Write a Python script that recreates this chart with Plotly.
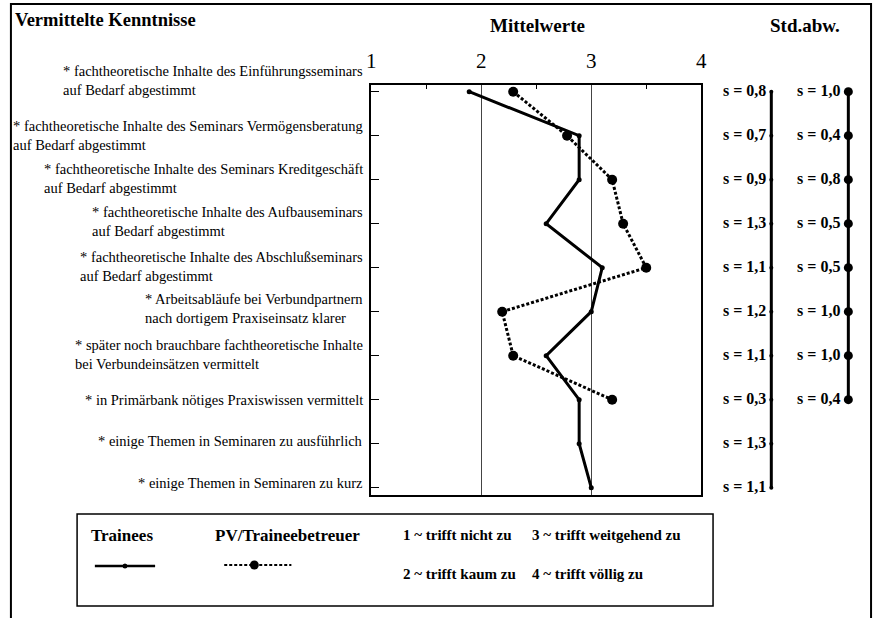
import plotly.graph_objects as go

W, H = 881, 618

# ---------------- data ----------------
categories = [
    "* fachtheoretische Inhalte des Einführungsseminars<br>auf Bedarf abgestimmt",
    "* fachtheoretische Inhalte des Seminars Vermögensberatung<br>auf Bedarf abgestimmt",
    "* fachtheoretische Inhalte des Seminars Kreditgeschäft<br>auf Bedarf abgestimmt",
    "* fachtheoretische Inhalte des Aufbauseminars<br>auf Bedarf abgestimmt",
    "* fachtheoretische Inhalte des Abschlußseminars<br>auf Bedarf abgestimmt",
    "* Arbeitsabläufe bei Verbundpartnern<br>nach dortigem Praxiseinsatz klarer",
    "* später noch brauchbare fachtheoretische Inhalte<br>bei Verbundeinsätzen vermittelt",
    "* in Primärbank nötiges Praxiswissen vermittelt",
    "* einige Themen in Seminaren zu ausführlich",
    "* einige Themen in Seminaren zu kurz",
]
trainees_mean = [1.89, 2.89, 2.89, 2.59, 3.10, 3.00, 2.59, 2.89, 2.89, 3.00]
pv_mean = [2.29, 2.78, 3.19, 3.29, 3.50, 2.19, 2.29, 3.19]
trainees_sd = [0.8, 0.7, 0.9, 1.3, 1.1, 1.2, 1.1, 0.3, 1.3, 1.1]
pv_sd = [1.0, 0.4, 0.8, 0.5, 0.5, 1.0, 1.0, 0.4]
x_ticks = [1, 2, 3, 4]
x_ticktext = ["1", "2", "3", "4"]
legend_scale = ["1 ~ trifft nicht zu", "2 ~ trifft kaum zu",
                "3 ~ trifft weitgehend zu", "4 ~ trifft völlig zu"]
series_names = ["Trainees", "PV/Traineebetreuer"]

# ---------------- style / layout constants ----------------
FONT = "Liberation Serif"
LABEL_YSHIFT = [11, 0, 1, 2, 1, 3, 1, 0, 3, 5]
SD_COL1_X, SD_COL2_X = 776, 854


def px(x):
    return x / W


def py(y):
    return 1 - y / H


idx = list(range(len(categories)))

fig = go.Figure()

# Trainees (solid)
fig.add_trace(go.Scatter(
    x=trainees_mean, y=idx[:len(trainees_mean)], mode="lines+markers",
    line=dict(color="black", width=3), marker=dict(color="black", size=5),
    name=series_names[0], showlegend=False, cliponaxis=False,
))
# PV / Traineebetreuer (dotted)
fig.add_trace(go.Scatter(
    x=pv_mean, y=idx[:len(pv_mean)], mode="lines+markers",
    line=dict(color="black", width=3, dash="3px,2px"),
    marker=dict(color="black", size=10),
    name=series_names[1], showlegend=False, cliponaxis=False,
))

fmt = lambda v: "s = " + f"{v:.1f}".replace(".", ",")
sd_font = dict(family=FONT, size=16, color="black", weight="bold")

# standard deviation columns
fig.add_trace(go.Scatter(
    x=[SD_COL1_X] * len(trainees_sd), y=idx[:len(trainees_sd)], xaxis="x2", yaxis="y",
    mode="lines+markers", line=dict(color="black", width=3),
    marker=dict(color="black", size=4), showlegend=False, cliponaxis=False,
))
fig.add_trace(go.Scatter(
    x=[SD_COL1_X - 5] * len(trainees_sd), y=idx[:len(trainees_sd)], xaxis="x2", yaxis="y",
    mode="text", text=[fmt(v) for v in trainees_sd], textposition="middle left",
    textfont=sd_font, showlegend=False, cliponaxis=False,
))
fig.add_trace(go.Scatter(
    x=[SD_COL2_X] * len(pv_sd), y=idx[:len(pv_sd)], xaxis="x2", yaxis="y",
    mode="lines+markers", line=dict(color="black", width=3),
    marker=dict(color="black", size=9), showlegend=False, cliponaxis=False,
))
fig.add_trace(go.Scatter(
    x=[SD_COL2_X - 8] * len(pv_sd), y=idx[:len(pv_sd)], xaxis="x2", yaxis="y",
    mode="text", text=[fmt(v) for v in pv_sd], textposition="middle left",
    textfont=sd_font, showlegend=False, cliponaxis=False,
))

annotations = []
# category labels
for i, lab in enumerate(categories):
    annotations.append(dict(
        x=px(365), xref="paper", y=i, yref="y", xanchor="right", yanchor="middle",
        align="left", text=lab, showarrow=False, yshift=LABEL_YSHIFT[i],
        font=dict(family=FONT, size=14.5, color="black"),
    ))

# headings
annotations += [
    dict(x=px(8), y=py(20), xref="paper", yref="paper", xanchor="left", yanchor="middle",
         text="<b>Vermittelte Kenntnisse</b>", showarrow=False,
         font=dict(family=FONT, size=18.5, color="black")),
    dict(x=px(539), y=py(25), xref="paper", yref="paper", xanchor="center", yanchor="middle",
         text="<b>Mittelwerte</b>", showarrow=False,
         font=dict(family=FONT, size=19, color="black")),
    dict(x=px(810), y=py(25), xref="paper", yref="paper", xanchor="center", yanchor="middle",
         text="<b>Std.abw.</b>", showarrow=False,
         font=dict(family=FONT, size=19, color="black")),
]

# legend box texts
legend_font = dict(family=FONT, size=17, color="black")
scale_font = dict(family=FONT, size=15, color="black")
annotations += [
    dict(x=px(85), y=py(535), xref="paper", yref="paper", xanchor="left", yanchor="middle",
         text="<b>" + series_names[0] + "</b>", showarrow=False, font=legend_font),
    dict(x=px(211), y=py(535), xref="paper", yref="paper", xanchor="left", yanchor="middle",
         text="<b>" + series_names[1] + "</b>", showarrow=False, font=legend_font),
    dict(x=px(401), y=py(535), xref="paper", yref="paper", xanchor="left", yanchor="middle",
         text="<b>" + legend_scale[0] + "</b>", showarrow=False, font=scale_font),
    dict(x=px(401), y=py(574), xref="paper", yref="paper", xanchor="left", yanchor="middle",
         text="<b>" + legend_scale[1] + "</b>", showarrow=False, font=scale_font),
    dict(x=px(532), y=py(535), xref="paper", yref="paper", xanchor="left", yanchor="middle",
         text="<b>" + legend_scale[2] + "</b>", showarrow=False, font=scale_font),
    dict(x=px(532), y=py(574), xref="paper", yref="paper", xanchor="left", yanchor="middle",
         text="<b>" + legend_scale[3] + "</b>", showarrow=False, font=scale_font),
]

shapes = [
    # outer frame
    dict(type="rect", xref="paper", yref="paper", x0=px(6), x1=px(877), y0=py(625), y1=py(4),
         line=dict(color="black", width=2)),
    # legend box
    dict(type="rect", xref="paper", yref="paper", x0=px(73), x1=px(717), y0=py(606), y1=py(514),
         line=dict(color="black", width=1.5)),
    # legend sample: trainees
    dict(type="line", xref="paper", yref="paper", x0=px(91), x1=px(152), y0=py(566), y1=py(566),
         line=dict(color="black", width=2.5)),
    dict(type="circle", xref="paper", yref="paper", x0=px(119), x1=px(124), y0=py(568.5), y1=py(563.5),
         fillcolor="black", line=dict(color="black", width=0)),
    # legend sample: PV
    dict(type="line", xref="paper", yref="paper", x0=px(222), x1=px(290), y0=py(565), y1=py(565),
         line=dict(color="black", width=2, dash="3px,2px")),
    dict(type="circle", xref="paper", yref="paper", x0=px(248), x1=px(257), y0=py(569.5), y1=py(560.5),
         fillcolor="black", line=dict(color="black", width=0)),
]

fig.update_layout(
    width=W, height=H,
    margin=dict(l=0, r=0, t=0, b=0),
    paper_bgcolor="white", plot_bgcolor="white",
    font=dict(family=FONT, color="black"),
    xaxis=dict(
        domain=[px(371), px(705)], range=[1, 4], side="top",
        tickvals=x_ticks, ticktext=x_ticktext, ticks="",
        tickfont=dict(family=FONT, size=21, color="black"),
        ticklabelstandoff=7,
        showgrid=True, gridcolor="#444", gridwidth=1,
        showline=True, mirror=True, linecolor="black", linewidth=2,
        zeroline=False, fixedrange=True,
        minor=dict(tickvals=[1.5, 2.5, 3.5], ticks="inside", ticklen=4,
                   tickcolor="black", showgrid=False),
    ),
    yaxis=dict(
        domain=[py(495), py(85)], range=[9.166, -0.152],
        tickvals=idx, showticklabels=False, ticks="inside", ticklen=8,
        tickcolor="black", tickwidth=1,
        showgrid=False, showline=True, mirror=True, linecolor="black", linewidth=2,
        zeroline=False, fixedrange=True,
    ),
    xaxis2=dict(
        domain=[px(712), px(878)], range=[712, 878], anchor="y",
        visible=False, fixedrange=True,
    ),
    annotations=annotations,
    shapes=shapes,
)

fig.write_html(
    "out.html",
    config={"displayModeBar": False, "staticPlot": True},
    post_script="document.body.style.margin='0';document.body.style.padding='0';",
)
